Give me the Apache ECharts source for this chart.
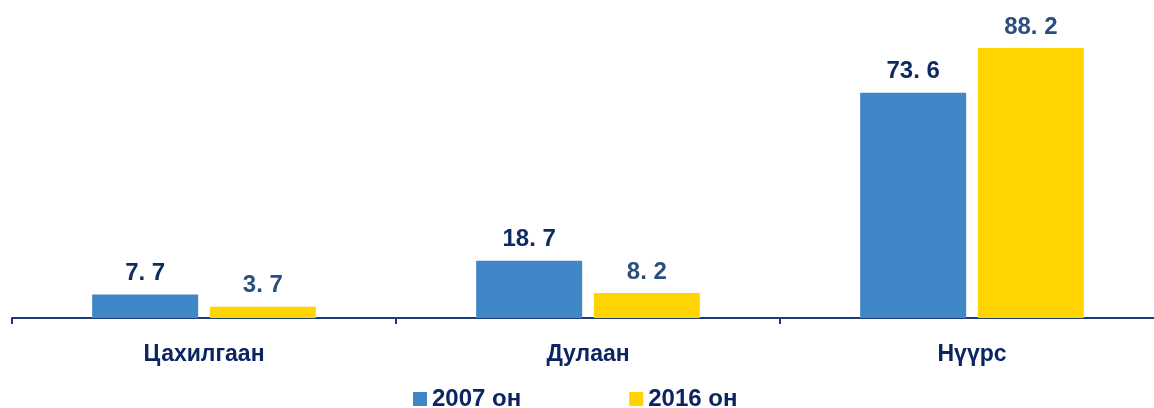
<!DOCTYPE html>
<html>
<head>
<meta charset="utf-8">
<script src="https://cdn.jsdelivr.net/npm/echarts@6/dist/echarts.min.js"></script>
<style>
  html, body { margin: 0; padding: 0; background: #fff; overflow: hidden; }
  #graf { width: 1164px; height: 408px; }
</style>
</head>
<body>
<div id="graf"></div>
<script>
// datos
var categorias = ['Цахилгаан', 'Дулаан', 'Нүүрс'];
var serie2007 = [7.7, 18.7, 73.6];
var serie2016 = [3.7, 8.2, 88.2];
var nombres = ['2007 он', '2016 он'];

var myChart = echarts.init(document.getElementById('graf'));

// etiqueta con espacio despues del punto
var fmt = function (p) {
  return String(p.value).replace('.', '. ');
};

var option = {
  animation: false,
  legend: {
    data: nombres,
    top: 382,
    left: 408,
    itemWidth: 14,
    itemHeight: 14,
    itemGap: 108,
    itemStyle: { borderWidth: 0 },
    icon: 'rect',
    textStyle: {
      color: '#0d2462',
      fontWeight: 'bold',
      fontSize: 24,
      fontFamily: 'Liberation Sans, Arial, sans-serif'
    }
  },
  grid: {
    left: 12,
    right: 0,
    top: 12,
    bottom: 90
  },
  xAxis: {
    type: 'category',
    data: categorias,
    axisLine: { lineStyle: { color: '#1d3a7a', width: 2 } },
    axisTick: { show: true, length: 6, lineStyle: { color: '#1d3a7a', width: 2 } },
    axisLabel: {
      margin: 25,
      color: '#0d2462',
      fontWeight: 'bold',
      fontSize: 23,
      fontFamily: 'Liberation Sans, Arial, sans-serif'
    }
  },
  yAxis: {
    type: 'value',
    min: 0,
    max: 100,
    show: false
  },
  series: [
    {
      name: nombres[0],
      type: 'bar',
      data: serie2007,
      barWidth: 106,
      barGap: '11%',
      itemStyle: { color: '#4186c6' },
      label: {
        show: true,
        position: 'top',
        distance: 9,
        formatter: fmt,
        color: '#0f2a5e',
        fontWeight: 'bold',
        fontSize: 24,
        fontFamily: 'Liberation Sans, Arial, sans-serif'
      }
    },
    {
      name: nombres[1],
      type: 'bar',
      data: serie2016,
      barWidth: 106,
      barGap: '11%',
      itemStyle: { color: '#ffd400' },
      label: {
        show: true,
        position: 'top',
        distance: 9,
        formatter: fmt,
        color: '#2b4f7c',
        fontWeight: 'bold',
        fontSize: 24,
        fontFamily: 'Liberation Sans, Arial, sans-serif'
      }
    }
  ]
};

myChart.setOption(option);
</script>
</body>
</html>
